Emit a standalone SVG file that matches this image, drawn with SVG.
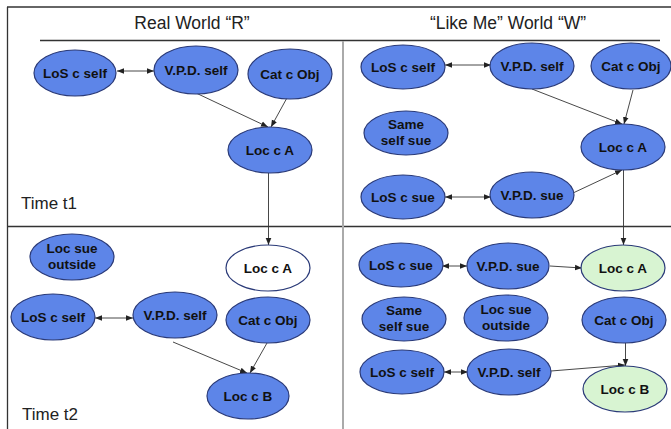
<svg xmlns="http://www.w3.org/2000/svg" width="671" height="429" viewBox="0 0 671 429">
  <style>
    .frame { stroke: #333; stroke-width: 1.3; fill: none; }
    .divider { stroke: #aaa; stroke-width: 2; fill: none; }
    .title { font-family: "Liberation Sans", Arial, sans-serif; font-size: 17.5px; fill: #222; text-anchor: middle; }
    .time { font-family: "Liberation Sans", Arial, sans-serif; font-size: 17px; fill: #222; }
    .node ellipse { stroke: #2a3a78; stroke-width: 1.2; }
    .blue ellipse { fill: #5d85e8; }
    .white ellipse { fill: #ffffff; }
    .green ellipse { fill: #d8f4d2; }
    .node text { font-family: "Liberation Sans", Arial, sans-serif; font-size: 13.5px; font-weight: bold; fill: #111; text-anchor: middle; }
    .edge { stroke: #333; stroke-width: 0.9; fill: none; }
  </style>
  <defs>
    <marker id="arrow" viewBox="0 0 10 10" refX="10" refY="5" markerWidth="7" markerHeight="7" orient="auto-start-reverse" markerUnits="userSpaceOnUse">
      <path d="M0,1 L10,5 L0,9 z" fill="#222"/>
    </marker>
  </defs>

  <rect width="671" height="429" fill="#fff"/>

  <!-- frame and panel grid -->
  <g id="grid">
    <line class="frame" x1="7" y1="7" x2="671" y2="7"/>
    <line class="frame" x1="7.5" y1="7" x2="7.5" y2="429"/>
    <line class="frame" x1="40" y1="40.5" x2="660" y2="40.5"/>
    <line class="frame" x1="7" y1="226.5" x2="671" y2="226.5"/>
    <line class="divider" x1="343" y1="41" x2="343" y2="429"/>
  </g>

  <!-- headings -->
  <text class="title" x="192" y="29">Real World “R”</text>
  <text class="title" x="508" y="29">“Like Me” World “W”</text>
  <text class="time" x="21" y="209">Time t1</text>
  <text class="time" x="22" y="420">Time t2</text>

  <!-- connectors -->
  <g id="connectors">
    <!-- real world, t1 -->
    <line class="edge" x1="117" y1="71" x2="154" y2="71" marker-start="url(#arrow)" marker-end="url(#arrow)"/>
    <line class="edge" x1="196" y1="93" x2="268" y2="127" marker-end="url(#arrow)"/>
    <line class="edge" x1="288" y1="96" x2="271" y2="127" marker-end="url(#arrow)"/>
    <line class="edge" x1="268.5" y1="173" x2="268.5" y2="245" marker-end="url(#arrow)"/>
    <!-- real world, t2 -->
    <line class="edge" x1="95" y1="318" x2="133" y2="318" marker-start="url(#arrow)" marker-end="url(#arrow)"/>
    <line class="edge" x1="173" y1="342" x2="247" y2="373" marker-end="url(#arrow)"/>
    <line class="edge" x1="267" y1="343" x2="250" y2="373" marker-end="url(#arrow)"/>
    <!-- like-me world, t1 -->
    <line class="edge" x1="445" y1="65" x2="491" y2="65" marker-start="url(#arrow)" marker-end="url(#arrow)"/>
    <line class="edge" x1="532" y1="89" x2="622" y2="124" marker-end="url(#arrow)"/>
    <line class="edge" x1="633" y1="90" x2="624" y2="124" marker-end="url(#arrow)"/>
    <line class="edge" x1="445" y1="197" x2="491" y2="197" marker-start="url(#arrow)" marker-end="url(#arrow)"/>
    <line class="edge" x1="573" y1="193" x2="622" y2="170" marker-end="url(#arrow)"/>
    <line class="edge" x1="623.5" y1="170" x2="623.5" y2="245" marker-end="url(#arrow)"/>
    <!-- like-me world, t2 -->
    <line class="edge" x1="442" y1="266" x2="467" y2="266" marker-start="url(#arrow)" marker-end="url(#arrow)"/>
    <line class="edge" x1="550" y1="266" x2="582" y2="268" marker-end="url(#arrow)"/>
    <line class="edge" x1="444" y1="372" x2="468" y2="372" marker-start="url(#arrow)" marker-end="url(#arrow)"/>
    <line class="edge" x1="551" y1="371" x2="625" y2="365" marker-end="url(#arrow)"/>
    <line class="edge" x1="625.5" y1="343" x2="625.5" y2="366" marker-end="url(#arrow)"/>
  </g>

  <!-- real world, t1 -->
  <g id="r1-los-self" class="node blue"><ellipse cx="75" cy="73" rx="41" ry="23"/><text x="75" y="78">LoS c self</text></g>
  <g id="r1-vpd-self" class="node blue"><ellipse cx="196" cy="70" rx="42" ry="24"/><text x="196" y="75">V.P.D. self</text></g>
  <g id="r1-cat-obj" class="node blue"><ellipse cx="290" cy="74" rx="42" ry="25"/><text x="290" y="79">Cat c Obj</text></g>
  <g id="r1-loc-a" class="node blue"><ellipse cx="270" cy="150" rx="42" ry="23"/><text x="270" y="155">Loc c A</text></g>

  <!-- real world, t2 -->
  <g id="r2-loc-sue-outside" class="node blue"><ellipse cx="72" cy="257" rx="42" ry="23"/><text x="72" y="253">Loc sue</text><text x="72" y="269">outside</text></g>
  <g id="r2-loc-a" class="node white"><ellipse cx="268" cy="268" rx="42" ry="23"/><text x="268" y="273">Loc c A</text></g>
  <g id="r2-los-self" class="node blue"><ellipse cx="53" cy="317" rx="42" ry="23"/><text x="53" y="322">LoS c self</text></g>
  <g id="r2-vpd-self" class="node blue"><ellipse cx="175" cy="315" rx="42" ry="23"/><text x="175" y="320">V.P.D. self</text></g>
  <g id="r2-cat-obj" class="node blue"><ellipse cx="268" cy="320" rx="42" ry="23"/><text x="268" y="325">Cat c Obj</text></g>
  <g id="r2-loc-b" class="node blue"><ellipse cx="248" cy="396" rx="41" ry="23"/><text x="248" y="401">Loc c B</text></g>

  <!-- like-me world, t1 -->
  <g id="w1-los-self" class="node blue"><ellipse cx="403" cy="67" rx="42" ry="22"/><text x="403" y="72">LoS c self</text></g>
  <g id="w1-vpd-self" class="node blue"><ellipse cx="532" cy="66" rx="42" ry="23"/><text x="532" y="71">V.P.D. self</text></g>
  <g id="w1-cat-obj" class="node blue"><ellipse cx="631" cy="66" rx="40" ry="23"/><text x="631" y="71">Cat c Obj</text></g>
  <g id="w1-same-self-sue" class="node blue"><ellipse cx="406" cy="133" rx="42" ry="22"/><text x="406" y="129">Same</text><text x="406" y="145">self sue</text></g>
  <g id="w1-loc-a" class="node blue"><ellipse cx="623" cy="147" rx="42" ry="23"/><text x="623" y="152">Loc c A</text></g>
  <g id="w1-los-sue" class="node blue"><ellipse cx="403" cy="197" rx="42" ry="22"/><text x="403" y="202">LoS c sue</text></g>
  <g id="w1-vpd-sue" class="node blue"><ellipse cx="532" cy="195" rx="42" ry="23"/><text x="532" y="200">V.P.D. sue</text></g>

  <!-- like-me world, t2 -->
  <g id="w2-los-sue" class="node blue"><ellipse cx="401" cy="265" rx="42" ry="22"/><text x="401" y="270">LoS c sue</text></g>
  <g id="w2-vpd-sue" class="node blue"><ellipse cx="508" cy="266" rx="41" ry="23"/><text x="508" y="271">V.P.D. sue</text></g>
  <g id="w2-loc-a" class="node green"><ellipse cx="623" cy="268" rx="42" ry="23"/><text x="623" y="273">Loc c A</text></g>
  <g id="w2-same-self-sue" class="node blue"><ellipse cx="404" cy="319" rx="42" ry="22"/><text x="404" y="315">Same</text><text x="404" y="331">self sue</text></g>
  <g id="w2-loc-sue-outside" class="node blue"><ellipse cx="506" cy="318" rx="42" ry="23"/><text x="506" y="314">Loc sue</text><text x="506" y="330">outside</text></g>
  <g id="w2-cat-obj" class="node blue"><ellipse cx="624" cy="320" rx="42" ry="23"/><text x="624" y="325">Cat c Obj</text></g>
  <g id="w2-los-self" class="node blue"><ellipse cx="402" cy="372" rx="42" ry="22"/><text x="402" y="377">LoS c self</text></g>
  <g id="w2-vpd-self" class="node blue"><ellipse cx="509" cy="372" rx="42" ry="23"/><text x="509" y="377">V.P.D. self</text></g>
  <g id="w2-loc-b" class="node green"><ellipse cx="625" cy="389" rx="42" ry="23"/><text x="625" y="394">Loc c B</text></g>
</svg>
